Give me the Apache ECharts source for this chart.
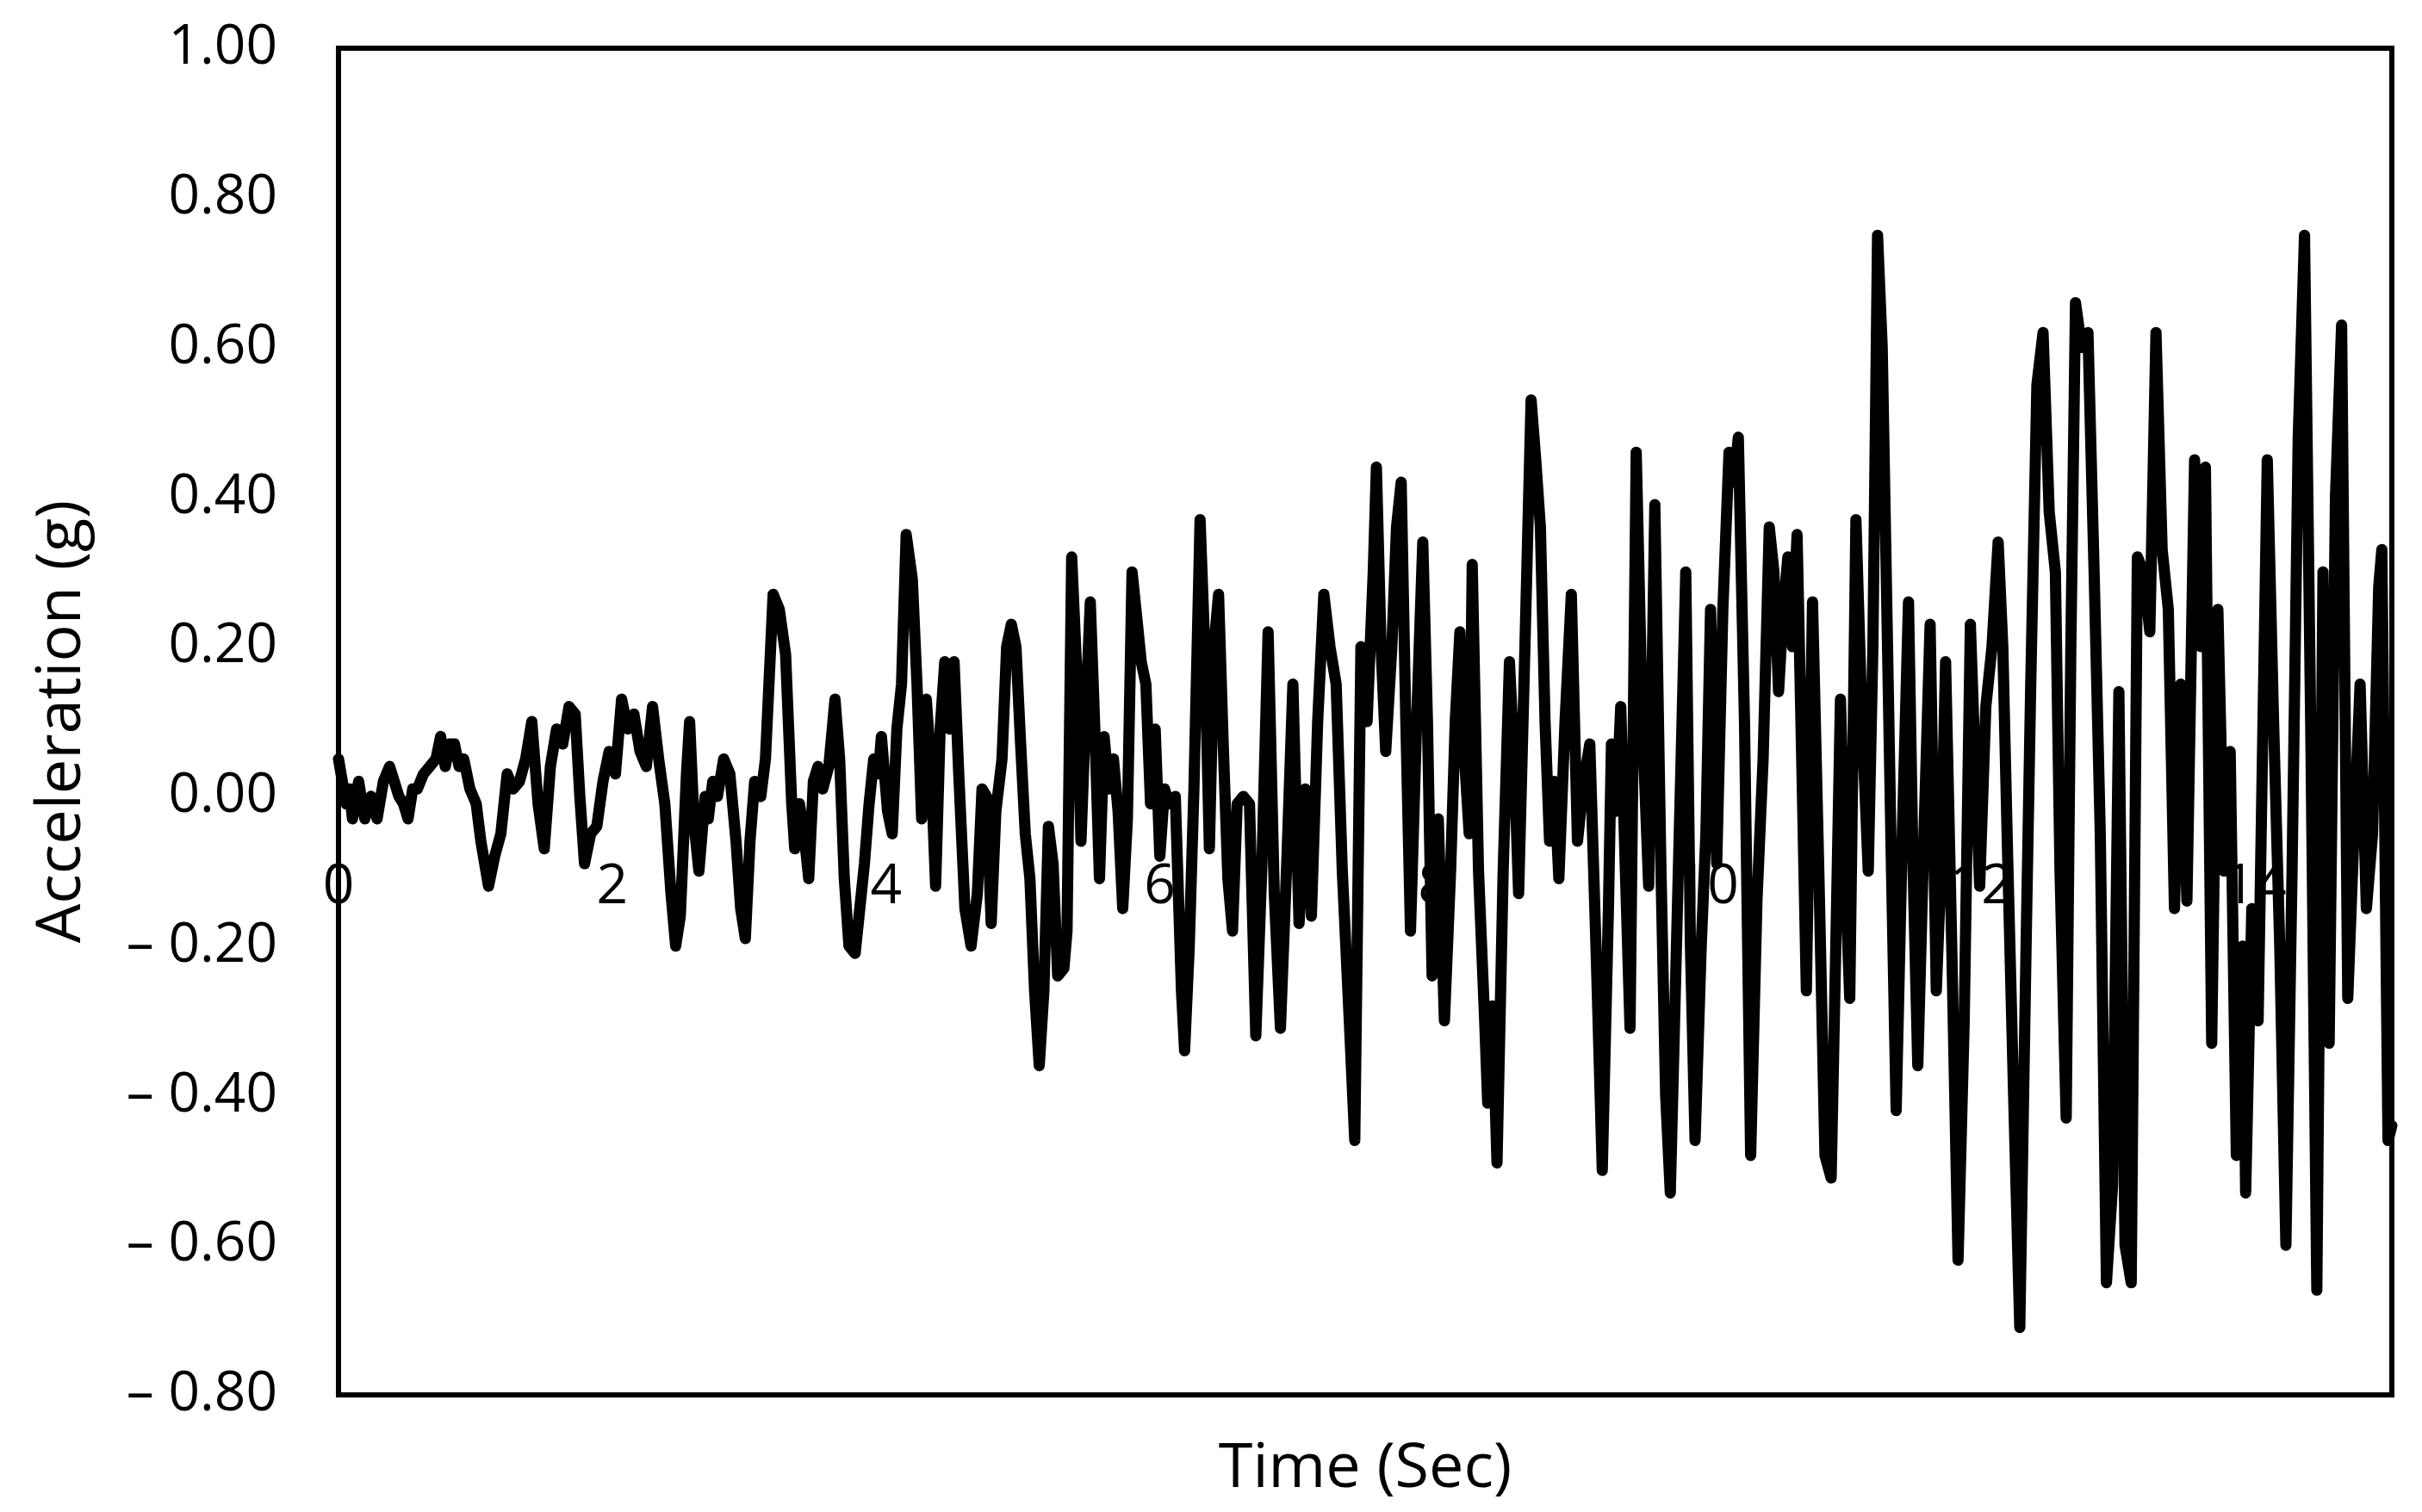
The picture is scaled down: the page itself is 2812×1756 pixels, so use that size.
<!DOCTYPE html>
<html>
<head>
<meta charset="utf-8">
<script src="https://cdn.jsdelivr.net/npm/echarts@6/dist/echarts.min.js"></script>
<style>
html,body{margin:0;padding:0;background:#fff;}
#chart{width:2812px;height:1756px;}
</style>
</head>
<body>
<div id="chart"></div>
<script>
const timeSec = [
0.000,0.056,0.079,0.102,0.147,0.192,0.237,0.282,0.328,0.373,0.407,0.441,0.475,0.508,0.542,0.576,0.621,0.667,0.712,0.746,
0.780,0.814,0.847,0.881,0.915,0.960,1.006,1.040,1.096,1.141,1.186,1.232,1.277,1.322,1.367,1.412,1.458,1.503,1.548,1.593,
1.638,1.684,1.729,1.763,1.797,1.842,1.887,1.932,1.977,2.023,2.068,2.113,2.158,2.203,2.249,2.294,2.339,2.384,2.429,2.463,
2.497,2.542,2.565,2.599,2.633,2.678,2.701,2.734,2.768,2.814,2.859,2.904,2.938,2.972,3.006,3.040,3.085,3.119,3.175,3.220,
3.266,3.311,3.333,3.367,3.401,3.435,3.469,3.503,3.537,3.582,3.627,3.661,3.695,3.729,3.774,3.808,3.842,3.876,3.910,3.944,
3.966,4.011,4.045,4.079,4.113,4.147,4.192,4.226,4.260,4.294,4.328,4.362,4.395,4.429,4.463,4.497,4.531,4.576,4.621,4.667,
4.701,4.734,4.768,4.802,4.847,4.881,4.915,4.949,4.983,5.017,5.051,5.085,5.119,5.153,5.186,5.220,5.254,5.299,5.322,5.356,
5.390,5.424,5.458,5.492,5.525,5.559,5.593,5.627,5.661,5.695,5.729,5.763,5.797,5.831,5.864,5.898,5.932,5.966,6.000,6.034,
6.068,6.113,6.158,6.181,6.215,6.249,6.294,6.328,6.362,6.395,6.429,6.463,6.497,6.531,6.565,6.610,6.655,6.701,6.746,6.791,
6.836,6.881,6.927,6.972,7.017,7.062,7.107,7.153,7.198,7.243,7.288,7.333,7.379,7.424,7.469,7.514,7.559,7.582,7.616,7.650,
7.695,7.729,7.763,7.797,7.831,7.876,7.921,7.955,7.989,8.034,8.079,8.124,8.158,8.192,8.226,8.260,8.282,8.328,8.373,8.395,
8.429,8.463,8.508,8.554,8.588,8.621,8.667,8.712,8.746,8.780,8.814,8.847,8.881,8.915,8.960,9.006,9.051,9.096,9.141,9.186,
9.232,9.277,9.299,9.333,9.367,9.401,9.435,9.480,9.525,9.571,9.616,9.661,9.695,9.729,9.774,9.808,9.842,9.876,9.910,9.955,
9.989,10.023,10.068,10.113,10.158,10.192,10.226,10.271,10.316,10.362,10.407,10.452,10.486,10.520,10.554,10.588,10.621,10.655,10.689,10.723,
10.768,10.814,10.859,10.904,10.938,10.972,11.006,11.040,11.085,11.130,11.175,11.209,11.243,11.277,11.311,11.345,11.379,11.424,11.469,11.503,
11.537,11.582,11.627,11.672,11.706,11.740,11.785,11.831,11.876,11.921,11.955,11.989,12.034,12.079,12.124,12.158,12.192,12.237,12.282,12.328,
12.362,12.407,12.452,12.497,12.542,12.576,12.621,12.655,12.689,12.734,12.780,12.825,12.870,12.915,12.960,13.006,13.051,13.096,13.141,13.186,
13.232,13.277,13.322,13.367,13.412,13.458,13.503,13.559,13.605,13.638,13.684,13.729,13.774,13.819,13.864,13.910,13.932,13.977,14.023,14.090,
14.136,14.181,14.226,14.271,14.316,14.362,14.407,14.452,14.497,14.542,14.588,14.633,14.678,14.723,14.768,14.814,14.859,14.904,14.927,14.972,
15.000
];
const accelG = [
0.05,-0.01,0.01,-0.03,0.02,-0.03,0.00,-0.03,0.02,0.04,0.02,0.00,-0.01,-0.03,0.01,0.01,0.03,0.04,0.05,0.08,
0.04,0.07,0.07,0.04,0.05,0.01,-0.01,-0.06,-0.12,-0.08,-0.05,0.03,0.01,0.02,0.05,0.10,-0.01,-0.07,0.04,0.09,
0.07,0.12,0.11,0.00,-0.09,-0.05,-0.04,0.02,0.06,0.03,0.13,0.09,0.11,0.06,0.04,0.12,0.05,-0.01,-0.13,-0.20,
-0.16,0.03,0.10,-0.04,-0.10,0.00,-0.03,0.02,0.00,0.05,0.03,-0.06,-0.15,-0.19,-0.06,0.02,0.00,0.05,0.27,0.25,
0.19,-0.01,-0.07,-0.01,-0.05,-0.11,0.02,0.04,0.01,0.04,0.13,0.05,-0.11,-0.20,-0.21,-0.15,-0.09,-0.01,0.05,0.03,
0.08,-0.02,-0.05,0.09,0.15,0.35,0.29,0.15,-0.03,0.13,0.04,-0.12,0.09,0.18,0.09,0.18,0.03,-0.15,-0.20,-0.13,
0.01,0.00,-0.17,-0.02,0.05,0.20,0.23,0.20,0.07,-0.05,-0.11,-0.26,-0.36,-0.26,-0.04,-0.09,-0.24,-0.23,-0.18,0.32,
0.18,-0.06,0.11,0.26,0.09,-0.11,0.08,0.01,0.05,-0.02,-0.15,-0.03,0.30,0.24,0.18,0.15,-0.01,0.09,-0.08,0.01,
-0.01,0.00,-0.26,-0.34,-0.20,0.01,0.37,0.20,-0.07,0.20,0.27,0.07,-0.11,-0.18,-0.01,0.00,-0.01,-0.32,-0.09,0.22,
-0.13,-0.31,-0.09,0.15,-0.17,0.01,-0.16,0.10,0.27,0.20,0.15,-0.10,-0.28,-0.46,0.20,0.10,0.30,0.44,0.20,0.06,
0.20,0.36,0.42,0.10,-0.18,0.10,0.34,0.10,-0.24,-0.03,-0.30,-0.10,0.10,0.22,0.05,-0.05,0.31,-0.10,-0.30,-0.41,
-0.28,-0.49,-0.10,0.18,0.05,-0.13,0.20,0.53,0.45,0.36,0.10,-0.06,0.02,-0.11,0.10,0.27,-0.06,0.02,0.07,-0.20,
-0.50,-0.15,0.07,-0.02,0.12,-0.10,-0.31,0.46,0.10,-0.12,0.39,-0.10,-0.40,-0.53,-0.20,0.05,0.30,-0.20,-0.46,-0.20,
-0.05,0.25,-0.09,0.25,0.46,0.42,0.48,0.10,-0.48,-0.14,0.05,0.36,0.30,0.14,0.25,0.32,0.20,0.35,0.05,-0.26,
0.26,-0.10,-0.48,-0.51,-0.20,0.13,-0.10,-0.27,0.37,0.10,-0.10,0.20,0.75,0.60,0.25,-0.10,-0.42,-0.05,0.26,-0.10,
-0.36,-0.05,0.23,-0.26,-0.10,0.18,-0.20,-0.62,-0.30,0.23,0.05,-0.12,0.12,0.20,0.34,0.20,-0.07,-0.40,-0.71,-0.20,
0.15,0.55,0.62,0.38,0.30,-0.10,-0.43,0.20,0.66,0.60,0.62,0.30,-0.05,-0.65,-0.52,0.14,-0.60,-0.65,0.32,0.30,
0.22,0.62,0.33,0.25,-0.15,0.15,-0.14,0.45,0.20,0.44,-0.33,0.25,-0.10,0.06,-0.48,-0.20,-0.53,-0.15,-0.30,0.45,
0.10,-0.20,-0.60,-0.10,0.48,0.75,0.10,-0.66,0.30,-0.33,0.40,0.63,-0.27,-0.05,0.15,-0.15,-0.05,0.28,0.33,-0.46,
-0.44
];
const xTickLabels = ['0','2','4','6','8','10','12','14'];
const yTitle = 'Acceleration (g)';
const xTitle = 'Time (Sec)';

const seriesData = timeSec.map((t, i) => [t, accelG[i]]);
const font = '"Open Sans", "Noto Sans", sans-serif';
const W = 2812, H = 1756;
const gridTop = 56, gridBottom = 136;
const yMin = -0.8, yMax = 1.0;
const gridH = H - gridTop - gridBottom;
// shift the bottom x axis up to the zero line (axis crosses at 0)
const zeroOffset = -gridH * (0 - yMin) / (yMax - yMin);

const chart = echarts.init(document.getElementById('chart'), null, {renderer: 'canvas'});
chart.setOption({
  animation: false,
  backgroundColor: '#ffffff',
  grid: {left: 393, right: 35, top: gridTop, bottom: gridBottom, show: true, borderColor: '#000', borderWidth: 6, backgroundColor: 'transparent', containLabel: false},
  xAxis: [{
    type: 'value', min: 0, max: 15, interval: 2, position: 'bottom', offset: zeroOffset,
    axisLine: {show: false, onZero: false},
    axisTick: {show: false},
    splitLine: {show: false},
    axisLabel: {
      margin: 74, color: '#000', fontSize: 64, fontFamily: font,
      formatter: v => { const s = String(Math.round(v)); return xTickLabels.indexOf(s) >= 0 && Math.abs(v - Math.round(v)) < 1e-9 ? s : ''; }
    }
  }, {
    type: 'value', min: 0, max: 15, position: 'bottom',
    axisLine: {show: false, onZero: false},
    axisTick: {show: false}, axisLabel: {show: false}, splitLine: {show: false},
    name: xTitle, nameLocation: 'middle', nameGap: 50,
    nameTextStyle: {color: '#000', fontSize: 72, fontFamily: font}
  }],
  yAxis: {
    type: 'value', min: yMin, max: yMax, interval: 0.2,
    axisLine: {show: false},
    axisTick: {show: false},
    splitLine: {show: false},
    axisLabel: {
      margin: 71, color: '#000', fontSize: 64, fontFamily: font,
      formatter: v => v < -1e-9 ? '\u2013 ' + (-v).toFixed(2) : Math.abs(v).toFixed(2)
    },
    name: yTitle, nameLocation: 'middle', nameGap: 285, nameRotate: 90,
    nameTextStyle: {color: '#000', fontSize: 72, fontFamily: font}
  },
  series: [{
    type: 'line', xAxisIndex: 0, data: seriesData, symbol: 'none', showSymbol: false,
    lineStyle: {color: '#000', width: 13, cap: 'round', join: 'round'}
  }]
});
</script>
</body>
</html>
